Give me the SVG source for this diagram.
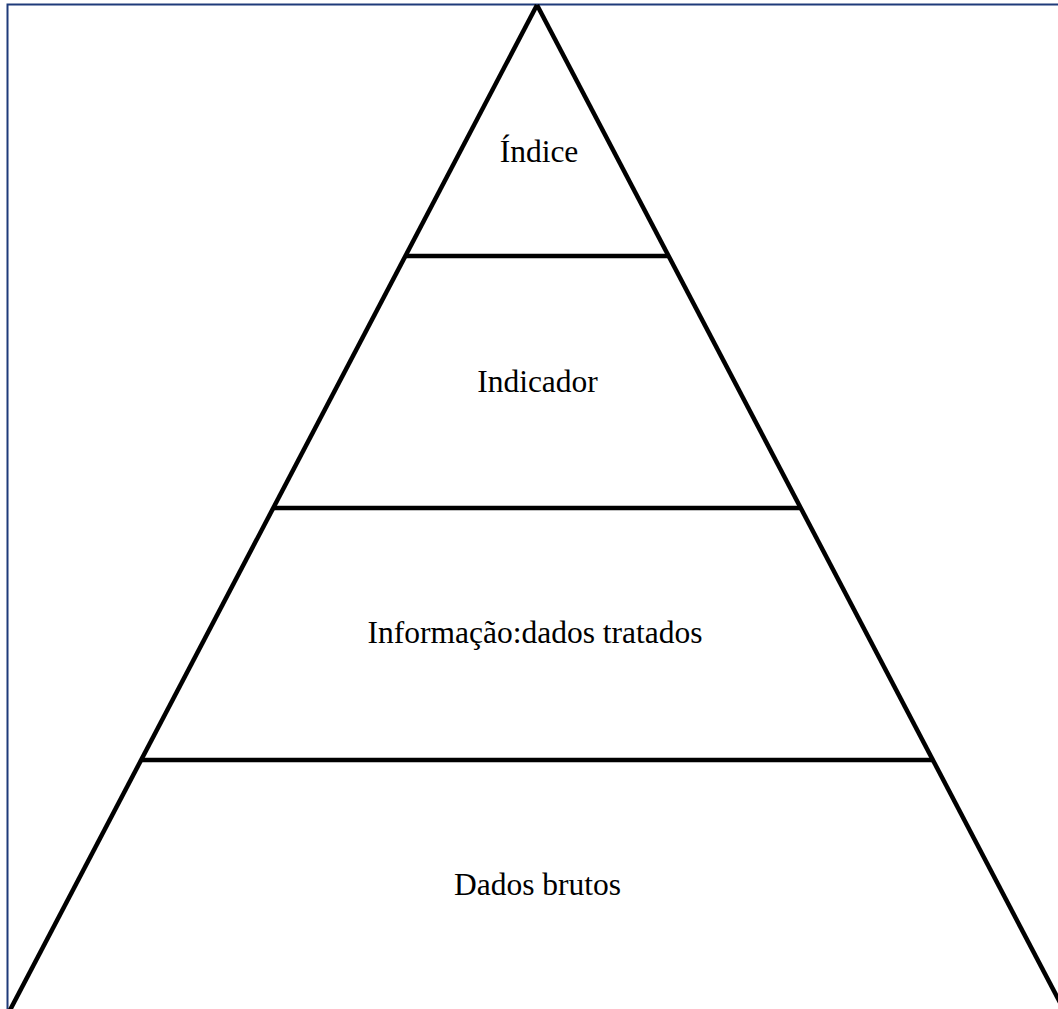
<svg xmlns="http://www.w3.org/2000/svg" width="1058" height="1009" viewBox="0 0 1058 1009">
<style>
.edge{stroke:#000;stroke-width:4.5;fill:none;stroke-linecap:butt}
.lbl{font-family:"Liberation Serif","Times New Roman",serif;font-size:31.5px;fill:#000;text-anchor:middle}
</style>
<rect x="0" y="0" width="1058" height="1009" fill="#fff"/>
<rect id="frame" x="7.5" y="4.5" width="1060" height="1020" fill="none" stroke="#1f3b7a" stroke-width="2"/>
<g id="connectors">
<line class="edge" x1="537" y1="5" x2="9" y2="1012"/>
<line class="edge" x1="537" y1="5" x2="1065" y2="1012"/>
<line class="edge" x1="405.5" y1="256" x2="668.5" y2="256"/>
<line class="edge" x1="273.5" y1="508" x2="800.5" y2="508"/>
<line class="edge" x1="141.5" y1="760" x2="932.5" y2="760"/>
</g>
<g id="level1"><text class="lbl" x="539" y="162">Índice</text></g>
<g id="level2"><text class="lbl" x="537.5" y="392">Indicador</text></g>
<g id="level3"><text class="lbl" x="535" y="643">Informação:dados tratados</text></g>
<g id="level4"><text class="lbl" x="537.5" y="895">Dados brutos</text></g>
</svg>
